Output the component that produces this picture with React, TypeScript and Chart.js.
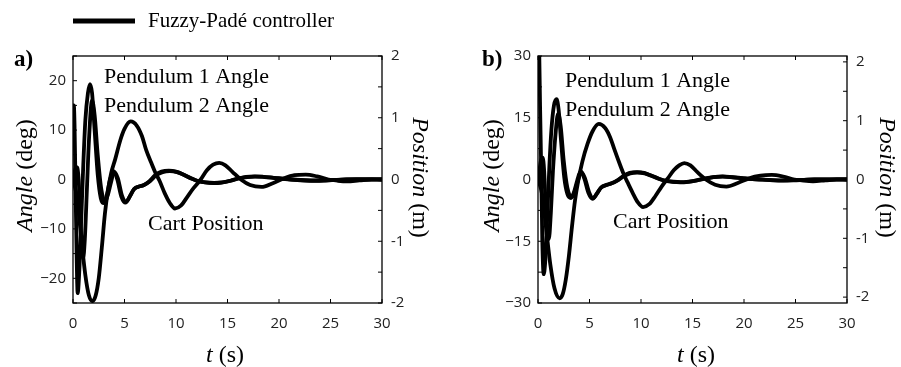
import React, { useEffect, useRef } from "react";
import { Chart, registerables } from "chart.js";
Chart.register(...registerables);

const SERIF = '"Liberation Serif", "Times New Roman", serif';
const SANS = '"Open Sans", "DejaVu Sans", sans-serif';

// ---------- Panel a data ----------
const tP1a = [0, 0.08, 0.15, 0.25, 0.35, 0.45, 0.6, 0.8, 1.0, 1.2, 1.45, 1.65, 1.85, 2.1, 2.4, 2.7, 3.0, 3.3, 3.6, 3.95, 4.3, 4.7, 5.1, 5.5, 5.9, 6.3, 6.8, 7.4, 8.0, 8.6, 9.3, 10.0, 10.7, 11.4, 12.1, 12.8, 13.6, 14.4, 15.2, 16.0, 16.8, 17.6, 18.5, 19.5, 20.5, 21.5, 22.5, 23.5, 24.5, 25.5, 26.5, 27.5, 28.5, 30];
const p1a = [15, 15, 11, -2, -15, -23, -19, -8, 3, 12, 17.5, 19.3, 17.5, 10, 1, -3.8, -4.8, -3, 0, 1.7, 0, -3.5, -4.7, -3.5, -2, -1.5, -1.2, -0.4, 0.9, 1.6, 1.8, 1.6, 1.0, 0.3, -0.3, -0.6, -0.75, -0.65, -0.3, 0.2, 0.55, 0.65, 0.55, 0.35, 0.15, -0.05, -0.2, -0.25, -0.2, -0.1, 0, 0.05, 0.05, 0];

const tP2a = [0, 0.15, 0.3, 0.42, 0.55, 0.7, 0.85, 0.98, 1.15, 1.35, 1.55, 1.85, 2.1, 2.4, 2.75, 3.1, 3.4, 3.7, 4.0, 4.35, 4.75, 5.15, 5.55, 5.95, 6.4, 6.9, 7.5, 8.1, 8.7, 9.4, 10.1, 10.8, 11.5, 12.2, 12.9, 13.7, 14.5, 15.3, 16.1, 16.9, 17.7, 18.6, 19.6, 20.6, 21.6, 22.6, 23.6, 24.6, 25.6, 26.6, 27.6, 28.6, 30];
const p2a = [0, 1.5, 2.5, 2.4, 0, -7, -13.5, -16, -12, -2, 8, 16, 13, 5, -2, -4.5, -3, -0.5, 1.5, 0.3, -3.2, -4.5, -3.3, -1.9, -1.4, -1.1, -0.3, 0.9, 1.5, 1.7, 1.5, 0.9, 0.2, -0.35, -0.6, -0.7, -0.6, -0.25, 0.2, 0.5, 0.6, 0.5, 0.3, 0.1, -0.05, -0.15, -0.2, -0.15, -0.08, 0, 0.04, 0.04, 0];

const tCa = [0, 0.4, 0.8, 1.2, 1.55, 1.9, 2.2, 2.5, 2.8, 3.1, 3.4, 3.7, 4.1, 4.6, 5.0, 5.6, 6.2, 6.7, 7.1, 7.6, 8.0, 8.4, 8.9, 9.4, 9.9, 10.5, 11.1, 11.7, 12.4, 13.0, 13.6, 14.2, 14.8, 15.5, 16.3, 17.2, 18.3, 19.4, 20.5, 21.5, 22.6, 23.7, 24.8, 25.7, 26.6, 27.8, 29, 30];
const cartA = [0, -0.3, -0.95, -1.55, -1.88, -1.97, -1.88, -1.6, -1.1, -0.55, -0.17, 0.1, 0.33, 0.64, 0.82, 0.94, 0.87, 0.7, 0.48, 0.27, 0.11, -0.02, -0.22, -0.38, -0.47, -0.42, -0.28, -0.14, 0, 0.15, 0.24, 0.27, 0.23, 0.12, 0, -0.09, -0.12, -0.06, 0.02, 0.07, 0.08, 0.05, 0, -0.02, -0.03, -0.015, 0, 0];

// ---------- Panel b data ----------
const tP1b = [0, 0.1, 0.2, 0.3, 0.42, 0.55, 0.7, 0.9, 1.1, 1.3, 1.55, 1.8, 2.0, 2.25, 2.55, 2.85, 3.2, 3.5, 3.8, 4.15, 4.5, 4.9, 5.3, 5.7, 6.1, 6.6, 7.1, 7.7, 8.3, 8.9, 9.6, 10.3, 11.0, 11.7, 12.4, 13.1, 13.8, 14.6, 15.4, 16.2, 17.0, 17.9, 18.8, 19.8, 20.8, 21.8, 22.8, 23.8, 24.8, 25.8, 26.8, 27.8, 28.8, 30];
const p1b = [45, 34, 18, 4, -15, -23, -20, -9, 3, 12, 18, 19.5, 17, 9, 0.5, -3.5, -4.5, -3, -0.3, 2.0, 0.2, -3.3, -4.7, -3.5, -2, -1.4, -1.0, -0.2, 0.9, 1.6, 1.8, 1.6, 0.9, 0.2, -0.35, -0.6, -0.7, -0.55, -0.2, 0.25, 0.6, 0.75, 0.6, 0.35, 0.1, -0.05, -0.2, -0.25, -0.2, -0.1, 0, 0.05, 0.05, 0];

const tP2b = [0, 0.15, 0.3, 0.45, 0.6, 0.75, 0.88, 1.05, 1.25, 1.45, 1.7, 1.95, 2.2, 2.5, 2.85, 3.25, 3.55, 3.85, 4.2, 4.55, 4.95, 5.35, 5.75, 6.15, 6.65, 7.15, 7.75, 8.35, 8.95, 9.65, 10.35, 11.05, 11.75, 12.45, 13.15, 13.85, 14.65, 15.45, 16.25, 17.05, 17.95, 18.85, 19.85, 20.85, 21.85, 22.85, 23.85, 24.85, 25.85, 26.85, 27.85, 28.85, 30];
const p2b = [0, 2.5, 4.8, 5.3, 2, -7, -14, -14.5, -8, 2, 11, 16, 13, 4.5, -2, -4.3, -3, -0.5, 1.8, 0.4, -3, -4.5, -3.3, -1.9, -1.3, -0.9, -0.2, 0.8, 1.5, 1.7, 1.5, 0.9, 0.2, -0.3, -0.55, -0.65, -0.5, -0.2, 0.2, 0.55, 0.7, 0.55, 0.3, 0.1, -0.05, -0.15, -0.2, -0.15, -0.08, 0, 0.04, 0.04, 0];

const tCb = [0, 0.4, 0.8, 1.2, 1.6, 2.1, 2.4, 2.7, 3.0, 3.3, 3.6, 3.9, 4.3, 4.8, 5.3, 5.9, 6.5, 7.0, 7.4, 7.9, 8.3, 8.7, 9.2, 9.7, 10.2, 10.8, 11.4, 12.0, 12.6, 13.2, 13.7, 14.2, 14.8, 15.5, 16.3, 17.2, 18.3, 19.4, 20.5, 21.6, 22.7, 23.8, 24.9, 25.8, 26.7, 27.9, 29, 30];
const cartB = [0, -0.25, -0.85, -1.45, -1.85, -2.02, -1.95, -1.7, -1.3, -0.8, -0.35, -0.03, 0.3, 0.6, 0.82, 0.945, 0.88, 0.72, 0.52, 0.28, 0.1, -0.05, -0.23, -0.39, -0.47, -0.42, -0.28, -0.12, 0.02, 0.16, 0.24, 0.28, 0.24, 0.12, 0, -0.09, -0.12, -0.06, 0.02, 0.065, 0.077, 0.05, 0, -0.02, -0.03, -0.015, 0, 0];

// ---------- Ticks ----------
const xTickLabels = [0, 5, 10, 15, 20, 25, 30];
const angleMarksA = [-25, -20, -15, -10, -5, 0, 5, 10, 15, 20, 25];
const angleLabelsA = [-20, -10, 0, 10, 20];
const angleMarksB = [-30, -22.5, -15, -7.5, 0, 7.5, 15, 22.5, 30];
const angleLabelsB = [-30, -15, 0, 15, 30];
const posMarks = [-2, -1.5, -1, -0.5, 0, 0.5, 1, 1.5, 2];
const posLabels = [-2, -1, 0, 1, 2];

const legendText = "Fuzzy-Padé controller";
const seriesNames = ["Pendulum 1 Angle", "Pendulum 2 Angle", "Cart Position"];

const zip = (t: number[], v: number[]) => t.map((x, i) => ({ x, y: v[i] }));

type Part = { text: string; font: string };
function drawParts(ctx: CanvasRenderingContext2D, parts: Part[], cx: number, cy: number, rot: number) {
  ctx.save();
  ctx.translate(cx, cy);
  ctx.rotate(rot);
  ctx.textBaseline = "middle";
  ctx.textAlign = "left";
  ctx.fillStyle = "#000";
  let total = 0;
  const widths = parts.map((p) => {
    ctx.font = p.font;
    const w = ctx.measureText(p.text).width;
    total += w;
    return w;
  });
  let x = -total / 2;
  parts.forEach((p, i) => {
    ctx.font = p.font;
    ctx.fillText(p.text, x, 0);
    x += widths[i];
  });
  ctx.restore();
}

type PanelDef = {
  canvasW: number;
  leftW: number;
  rightW: number;
  angleMin: number;
  angleMax: number;
  angleMarks: number[];
  angleLabels: number[];
  posMin: number;
  posMax: number;
  t1: number[]; v1: number[];
  t2: number[]; v2: number[];
  tc: number[]; vc: number[];
  label: string;
  labelX: number;
  angleTitleX: number;
  posTitleX: number;
  tTitleX: number;
  ann: { x: number; y: number }[];
  legend: boolean;
};

const panelA: PanelDef = {
  canvasW: 450, leftW: 73, rightW: 68,
  angleMin: -25, angleMax: 25, angleMarks: angleMarksA, angleLabels: angleLabelsA,
  posMin: -2, posMax: 2,
  t1: tP1a, v1: p1a, t2: tP2a, v2: p2a, tc: tCa, vc: cartA,
  label: "a)", labelX: 14, angleTitleX: 26, posTitleX: 419, tTitleX: 225,
  ann: [{ x: 104, y: 83 }, { x: 104, y: 112 }, { x: 148, y: 230 }],
  legend: true,
};

const panelB: PanelDef = {
  canvasW: 451, leftW: 88, rightW: 54,
  angleMin: -30, angleMax: 30, angleMarks: angleMarksB, angleLabels: angleLabelsB,
  posMin: -2.1, posMax: 2.1,
  t1: tP1b, v1: p1b, t2: tP2b, v2: p2b, tc: tCb, vc: cartB,
  label: "b)", labelX: 32, angleTitleX: 43, posTitleX: 436, tTitleX: 246,
  ann: [{ x: 115, y: 87 }, { x: 115, y: 116 }, { x: 163, y: 228 }],
  legend: false,
};

function buildConfig(p: PanelDef): any {
  const ds = (t: number[], v: number[], axis: string) => ({
    data: zip(t, v),
    yAxisID: axis,
    borderColor: "#000",
    borderWidth: 3.8,
    pointRadius: 0,
    fill: false,
    cubicInterpolationMode: "monotone",
    clip: 0,
  });
  const tickFont = { family: SANS, size: 15 };
  const fmtAngle = (v: number) => (v < 0 ? "\u2212" + Math.abs(v) : String(v));
  const plugin = {
    id: "decor",
    afterDraw(chart: any) {
      const ctx: CanvasRenderingContext2D = chart.ctx;
      const a = chart.chartArea;
      const sx = chart.scales.x, sl = chart.scales.yL, sr = chart.scales.yR;
      ctx.save();
      ctx.strokeStyle = "#000";
      ctx.lineWidth = 1.3;
      ctx.strokeRect(a.left, a.top, a.right - a.left, a.bottom - a.top);
      const L = 4;
      ctx.lineWidth = 1;
      ctx.beginPath();
      xTickLabels.forEach((v) => {
        const x = sx.getPixelForValue(v);
        ctx.moveTo(x, a.bottom); ctx.lineTo(x, a.bottom - L);
        ctx.moveTo(x, a.top); ctx.lineTo(x, a.top + L);
      });
      p.angleMarks.forEach((v) => {
        const y = sl.getPixelForValue(v);
        ctx.moveTo(a.left, y); ctx.lineTo(a.left + L, y);
      });
      posMarks.forEach((v) => {
        const y = sr.getPixelForValue(v);
        ctx.moveTo(a.right, y); ctx.lineTo(a.right - L, y);
      });
      ctx.stroke();
      ctx.restore();

      const cy = (a.top + a.bottom) / 2;
      drawParts(ctx, [
        { text: "Angle", font: `italic 24px ${SERIF}` },
        { text: " (deg)", font: `24px ${SERIF}` },
      ], p.angleTitleX, cy - 4, -Math.PI / 2);
      drawParts(ctx, [
        { text: "Position", font: `italic 24px ${SERIF}` },
        { text: " (m)", font: `24px ${SERIF}` },
      ], p.posTitleX, cy - 2, Math.PI / 2);
      drawParts(ctx, [
        { text: "t", font: `italic 24px ${SERIF}` },
        { text: " (s)", font: `24px ${SERIF}` },
      ], p.tTitleX, 356, 0);

      ctx.save();
      ctx.fillStyle = "#000";
      ctx.textBaseline = "alphabetic";
      ctx.textAlign = "left";
      ctx.font = `22px ${SERIF}`;
      p.ann.forEach((pt, i) => ctx.fillText(seriesNames[i], pt.x, pt.y));
      ctx.font = `bold 23px ${SERIF}`;
      ctx.fillText(p.label, p.labelX, 66);
      if (p.legend) {
        ctx.strokeStyle = "#000";
        ctx.lineWidth = 5;
        ctx.beginPath();
        ctx.moveTo(73, 21);
        ctx.lineTo(135, 21);
        ctx.stroke();
        ctx.font = `21px ${SERIF}`;
        ctx.fillText(legendText, 148, 27);
      }
      ctx.restore();
    },
  };
  return {
    type: "line",
    data: {
      datasets: [ds(p.t1, p.v1, "yL"), ds(p.t2, p.v2, "yL"), ds(p.tc, p.vc, "yR")],
    },
    options: {
      responsive: false,
      animation: false,
      devicePixelRatio: 1,
      events: [],
      layout: { padding: { top: 56, left: 0, right: 0, bottom: 0 } },
      plugins: { legend: { display: false }, tooltip: { enabled: false } },
      scales: {
        x: {
          type: "linear", position: "bottom", min: 0, max: 30,
          grid: { display: false, drawTicks: false }, border: { display: false },
          ticks: { font: tickFont, color: "#222", padding: 12, maxRotation: 0, autoSkip: false },
          afterBuildTicks: (s: any) => { s.ticks = xTickLabels.map((v) => ({ value: v })); },
          afterFit: (s: any) => { s.height = 64; },
        },
        yL: {
          type: "linear", position: "left", min: p.angleMin, max: p.angleMax,
          grid: { display: false, drawTicks: false }, border: { display: false },
          ticks: { font: tickFont, color: "#222", padding: 7, autoSkip: false, callback: (v: number) => fmtAngle(v) },
          afterBuildTicks: (s: any) => { s.ticks = p.angleLabels.map((v) => ({ value: v })); },
          afterFit: (s: any) => { s.width = p.leftW; },
        },
        yR: {
          type: "linear", position: "right", min: p.posMin, max: p.posMax,
          grid: { display: false, drawTicks: false }, border: { display: false },
          ticks: { font: tickFont, color: "#222", padding: 9, autoSkip: false, callback: (v: number) => String(v) },
          afterBuildTicks: (s: any) => { s.ticks = posLabels.map((v) => ({ value: v })); },
          afterFit: (s: any) => { s.width = p.rightW; },
        },
      },
    },
    plugins: [plugin],
  };
}

export default function App() {
  const refA = useRef<HTMLCanvasElement>(null);
  const refB = useRef<HTMLCanvasElement>(null);
  useEffect(() => {
    const a = new Chart(refA.current as HTMLCanvasElement, buildConfig(panelA));
    const b = new Chart(refB.current as HTMLCanvasElement, buildConfig(panelB));
    return () => {
      a.destroy();
      b.destroy();
    };
  }, []);
  return (
    <div style={{ position: "fixed", left: 0, top: 0, width: 901, height: 367, background: "#fff" }}>
      <canvas ref={refA} width={450} height={367} style={{ position: "absolute", left: 0, top: 0, width: 450, height: 367 }} />
      <canvas ref={refB} width={451} height={367} style={{ position: "absolute", left: 450, top: 0, width: 451, height: 367 }} />
    </div>
  );
}
